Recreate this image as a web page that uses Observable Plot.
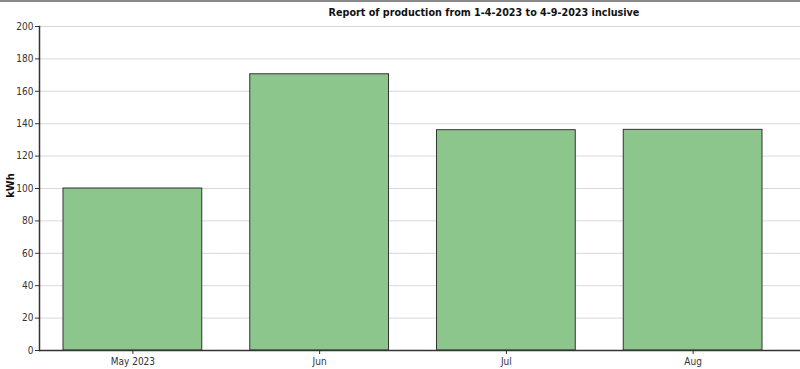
<!DOCTYPE html>
<html>
<head>
<meta charset="utf-8">
<script src="https://cdn.jsdelivr.net/npm/d3@7"></script>
<script src="https://cdn.jsdelivr.net/npm/@observablehq/plot@0.6"></script>
<style>
  html, body { margin: 0; padding: 0; background: #fff; }
  #wrap { position: relative; width: 800px; height: 369px; overflow: hidden; }
  #topline { position: absolute; left: 0; top: 0; width: 800px; height: 2px; background: #8a8a8a; }
  #title { position: absolute; top: 6px; left: 484px; transform: translateX(-50%); white-space: nowrap;
           font: bold 10.7px "DejaVu Sans Condensed", "DejaVu Sans", sans-serif; color: #111; }
  svg { display: block; }
</style>
</head>
<body>
<div id="wrap">
  <div id="chart"></div>
  <div id="topline"></div>
  <div id="title">Report of production from 1-4-2023 to 4-9-2023 inclusive</div>
</div>
<script>
const months = ["May 2023", "Jun", "Jul", "Aug"];
const production = [100, 170.5, 136, 136.2];
const yTicks = [0, 20, 40, 60, 80, 100, 120, 140, 160, 180, 200];
const yLabel = "kWh";

const data = months.map((m, i) => ({month: m, value: production[i]}));

const chart = Plot.plot({
  width: 800,
  height: 369,
  marginLeft: 39,
  marginRight: 0,
  marginTop: 26,
  marginBottom: 19,
  style: {fontFamily: "'DejaVu Sans Condensed', 'DejaVu Sans', sans-serif", fontSize: "10px", color: "#333", background: "#fff"},
  x: {domain: months, range: [39, 786], padding: 0, round: false, label: null},
  y: {domain: [0, 200], label: null},
  marks: [
    Plot.gridY(yTicks, {stroke: "#d8d8d8", strokeOpacity: 1, strokeWidth: 1}),
    Plot.barY(data, {x: "month", y: "value", fill: "#8dc68d", stroke: "#333", strokeWidth: 1, insetLeft: 24, insetRight: 24}),
    Plot.axisX({tickSize: 4, tickPadding: 3, stroke: "#333", label: null}),
    Plot.axisY(yTicks, {tickSize: 4, tickPadding: 2, stroke: "#333", label: null}),
    Plot.frame({anchor: "left", stroke: "#333", strokeWidth: 1.5}),
    Plot.ruleY([0], {stroke: "#333", strokeWidth: 1.5}),
    Plot.text([yLabel], {frameAnchor: "left", textAnchor: "middle", dx: -29, dy: -3, rotate: -90, text: d => d, fontWeight: "bold", fontSize: 11, fill: "#111"})
  ]
});
document.getElementById("chart").appendChild(chart);
</script>
</body>
</html>
